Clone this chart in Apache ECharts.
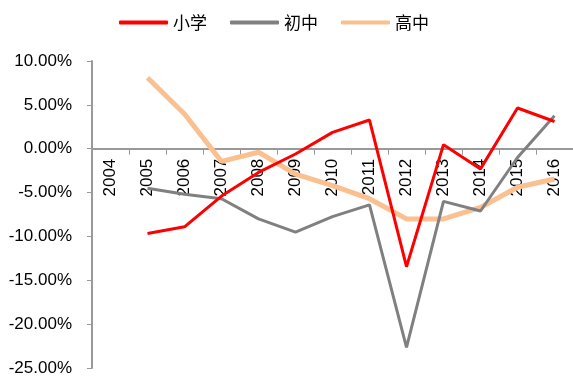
<!DOCTYPE html>
<html>
<head>
<meta charset="utf-8">
<script src="https://cdn.jsdelivr.net/npm/echarts@6/dist/echarts.min.js"></script>
<style>html,body{margin:0;padding:0;background:#fff;}#c{width:573px;height:378px;}</style>
</head>
<body>
<div id="c"></div>
<script>
var years = ['2004','2005','2006','2007','2008','2009','2010','2011','2012','2013','2014','2015','2016'];
var primary = [null, -9.66, -8.9, -5.4, -2.7, -0.6, 1.86, 3.27, -13.45, 0.46, -2.3, 4.64, 3.1];
var junior  = [null, -4.5, -5.2, -5.7, -8.0, -9.5, -7.75, -6.4, -22.65, -6.0, -7.1, -1.0, 3.76];
var senior  = [null, 8.1, 3.95, -1.45, -0.4, -2.9, -4.2, -5.7, -8.0, -8.0, -6.7, -4.4, -3.45];
var yTicks = [-25, -20, -15, -10, -5, 0, 5, 10];

var gridTop = 61, gridBottom = 10, H = 378;
var yMin = yTicks[0], yMax = yTicks[yTicks.length - 1];
var plotH = H - gridTop - gridBottom;
var zeroOffset = plotH * (0 - yMin) / (yMax - yMin);

var chart = echarts.init(document.getElementById('c'));
chart.setOption({
  animation: false,
  legend: {
    top: 9,
    left: 114,
    itemWidth: 49,
    itemHeight: 4,
    itemGap: 23,
    icon: 'roundRect',
    textStyle: {fontSize: 17, color: '#000', fontFamily: 'Noto Sans CJK SC'},
    data: ['小学', '初中', '高中']
  },
  grid: {left: 92, right: 0, top: gridTop, bottom: gridBottom, outerBoundsMode: 'none', containLabel: false},
  xAxis: {
    type: 'category',
    data: years,
    boundaryGap: true,
    offset: -zeroOffset,
    z: 0,
    axisLine: {onZero: false, lineStyle: {color: '#999', width: 2}},
    axisTick: {show: true, interval: 0, length: 6, lineStyle: {color: '#999', width: 1}},
    axisLabel: {interval: 0, rotate: 90, margin: 10, fontSize: 17, color: '#000', fontFamily: 'Liberation Sans'}
  },
  yAxis: {
    type: 'value',
    min: yMin,
    max: yMax,
    interval: 5,
    splitLine: {show: false},
    axisLine: {show: true, lineStyle: {color: '#999', width: 2}},
    axisTick: {show: true, length: 5, lineStyle: {color: '#999'}},
    axisLabel: {
      fontSize: 17, color: '#000', fontFamily: 'Liberation Sans', margin: 20,
      formatter: function (v) { return v.toFixed(2) + '%'; }
    }
  },
  series: [
    {name: '小学', type: 'line', data: primary, symbol: 'none', lineStyle: {color: '#FF0000', width: 3}, itemStyle: {color: '#FF0000'}, z: 4},
    {name: '初中', type: 'line', data: junior, symbol: 'none', lineStyle: {color: '#808080', width: 3}, itemStyle: {color: '#808080'}, z: 3},
    {name: '高中', type: 'line', data: senior, symbol: 'none', lineStyle: {color: '#FAC090', width: 5}, itemStyle: {color: '#FAC090'}, z: 2}
  ]
});
</script>
</body>
</html>
